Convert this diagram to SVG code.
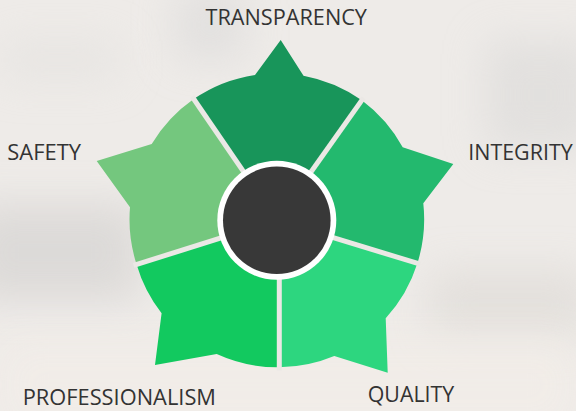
<svg xmlns="http://www.w3.org/2000/svg" width="576" height="411" viewBox="0 0 576 411">
  <defs>
    <style>
      .lbl { font-family: "Open Sans", "Noto Sans", "Liberation Sans", sans-serif; font-size: 21.5px; fill: #333333; }
      .gap { stroke: #ebe8e5; stroke-width: 5; fill: none; }
      .bg-blob { filter: url(#soft); }
    </style>
    <filter id="soft" filterUnits="userSpaceOnUse" x="-100" y="-100" width="776" height="611">
      <feGaussianBlur stdDeviation="20"/>
    </filter>
  </defs>

  <g id="background">
    <rect x="0" y="0" width="576" height="411" fill="#eeebe8"/>
    <rect class="bg-blob" x="-30" y="205" width="170" height="95" fill="#d8d6d4" opacity="0.8"/>
    <rect class="bg-blob" x="175" y="-10" width="70" height="70" fill="#dddcdb" opacity="0.7"/>
    <rect class="bg-blob" x="485" y="40" width="110" height="110" fill="#dad9d8" opacity="0.6"/>
    <rect class="bg-blob" x="430" y="270" width="160" height="70" fill="#dfdbd7" opacity="0.7"/>
    <rect class="bg-blob" x="0" y="40" width="120" height="40" fill="#e3e1df" opacity="0.6"/>
    <rect class="bg-blob" x="0" y="340" width="576" height="90" fill="#f2ede8" opacity="0.9"/>
  </g>

  <g id="node-transparency">
    <path d="M276.8,220.3 L193.7,99 A147,147 0 0 1 255,74.9 L280.7,40 L303.5,75.7 A147,147 0 0 1 361.8,100.3 Z" fill="#18955a"/>
    <text class="lbl" x="205.5" y="25.3" textLength="161.5" lengthAdjust="spacingAndGlyphs">TRANSPARENCY</text>
  </g>

  <g id="node-integrity">
    <path d="M276.8,220.3 L361.8,100.3 A147,147 0 0 1 402.7,147.3 L453.3,164 L423.3,203.3 A147,147 0 0 1 417.4,263.3 Z" fill="#23b96e"/>
    <text class="lbl" x="468.3" y="160" textLength="104.4" lengthAdjust="spacingAndGlyphs">INTEGRITY</text>
  </g>

  <g id="node-quality">
    <path d="M276.8,220.3 L417.4,263.3 A147,147 0 0 1 385.7,318.3 L387.7,372.7 L334.3,356 A147,147 0 0 1 279.3,367.3 L279.3,220.3 Z" fill="#2dd67f"/>
    <text class="lbl" x="367.7" y="401.5" textLength="86.6" lengthAdjust="spacingAndGlyphs">QUALITY</text>
  </g>

  <g id="node-professionalism">
    <path d="M279.3,220.3 L279.3,367.3 A147,147 0 0 1 216.7,354 L155,365 L161.6,313.3 A147,147 0 0 1 136.6,264.5 L276.8,220.3 Z" fill="#12c95f"/>
    <text class="lbl" x="22.7" y="405" textLength="193.3" lengthAdjust="spacingAndGlyphs">PROFESSIONALISM</text>
  </g>

  <g id="node-safety">
    <path d="M276.8,220.3 L136.6,264.5 A147,147 0 0 1 130,207.3 L96.7,161 L151.7,144 A147,147 0 0 1 193.7,99 Z" fill="#74c77e"/>
    <text class="lbl" x="7.3" y="160" textLength="73.7" lengthAdjust="spacingAndGlyphs">SAFETY</text>
  </g>

  <g id="connectors">
    <line class="gap" x1="276.8" y1="220.3" x2="192.05" y2="96.5"/>
    <line class="gap" x1="276.8" y1="220.3" x2="363.5" y2="97.9"/>
    <line class="gap" x1="276.8" y1="220.3" x2="420.2" y2="264.2"/>
    <line class="gap" x1="279.3" y1="220.3" x2="279.3" y2="370.5"/>
    <line class="gap" x1="276.8" y1="220.3" x2="133.7" y2="265.4"/>
  </g>

  <g id="node-hub">
    <circle cx="276.8" cy="220.3" r="59.5" fill="#ffffff"/>
    <circle cx="276.8" cy="220.3" r="53.8" fill="#383838"/>
  </g>
</svg>
